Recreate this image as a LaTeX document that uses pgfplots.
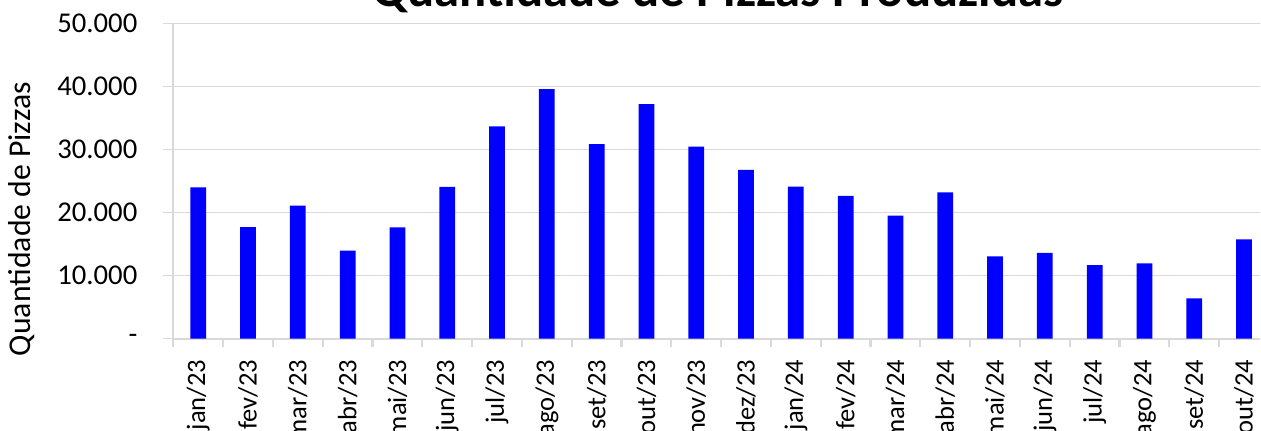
\documentclass[border=0pt]{standalone}
\usepackage{fontspec}
\setmainfont{Carlito}
\usepackage{pgfplots}
\usepackage{pgfplotstable}
\pgfplotsset{compat=1.18}
\definecolor{gridgray}{HTML}{D9D9D9}
\definecolor{barblue}{HTML}{0000FF}

\pgfplotstableread{
x y
0 24000
1 17700
2 21100
3 13950
4 17650
5 24050
6 33650
7 39550
8 30850
9 37200
10 30450
11 26750
12 24100
13 22650
14 19500
15 23200
16 13050
17 13600
18 11650
19 11950
20 6400
21 15750
}\pizzas

\begin{document}
\begin{tikzpicture}
\begin{axis}[
  name=ax,
  scale only axis,
  width=815pt, height=236.55pt,
  xmin=-0.5, xmax=21.32,
  ymin=0, ymax=50000,
  scaled y ticks=false,
  axis x line*=bottom, axis y line*=left,
  axis line style={gridgray, line width=1.6pt, -},
  ymajorgrids, grid style={gridgray, line width=1pt},
  tick align=outside,
  ytick={0,10000,20000,30000,40000,50000},
  yticklabels={{-\hspace{7pt}},{10.000},{20.000},{30.000},{40.000},{50.000}},
  xtick={0,...,21},
  xticklabels={jan/23,fev/23,mar/23,abr/23,mai/23,jun/23,jul/23,ago/23,set/23,out/23,nov/23,dez/23,jan/24,fev/24,mar/24,abr/24,mai/24,jun/24,jul/24,ago/24,set/24,out/24},
  minor xtick={-0.5,0.5,...,20.5},
  major x tick style={draw=none},
  minor x tick style={gridgray, line width=1.6pt},
  major y tick style={gridgray, line width=1pt},
  major tick length=7.5pt, minor tick length=6pt,
  yticklabel style={font=\fontsize{21.5}{24}\selectfont, text=black, anchor=east, xshift=-16pt},
  xticklabel style={font=\fontsize{19.9}{22}\selectfont, text=black, rotate=90, anchor=east, xshift=-5pt},
  ylabel={Quantidade de Pizzas},
  ylabel style={font=\fontsize{23.8}{26}\selectfont, at={(rel axis cs:0,0.3795)}, anchor=center, yshift=113.5pt},
  every axis title/.style={font=\fontsize{38}{40}\selectfont\bfseries, at={(rel axis cs:0.5013,1.0517)}, anchor=base},
  title={Quantidade de Pizzas Produzidas},
  clip=false,
]
\addplot[ybar, bar width=11.8pt, fill=barblue, draw=none] table[x=x, y=y] {\pizzas};
\end{axis}
\pgfresetboundingbox
\useasboundingbox ([shift={(-130pt,-68.5pt)}]ax.south west) rectangle ([shift={(815.75pt,254pt)}]ax.south west);
\end{tikzpicture}
\end{document}
